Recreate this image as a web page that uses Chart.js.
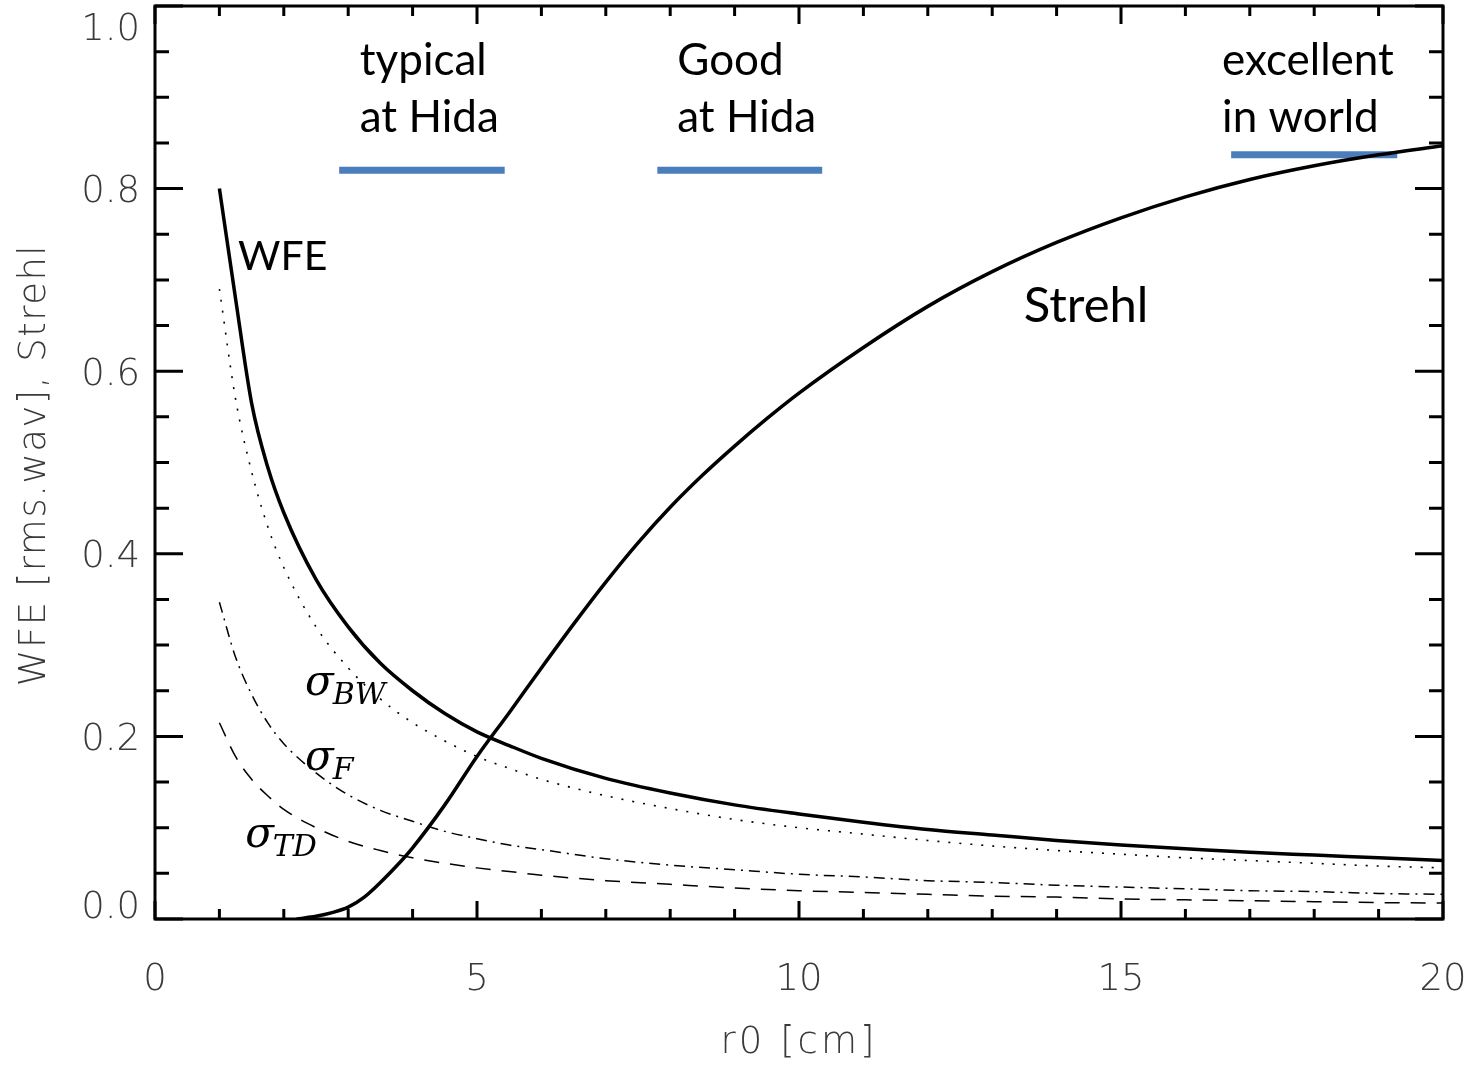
<!DOCTYPE html>
<html lang="en">
<head>
  <meta charset="UTF-8">
  <title>WFE and Strehl vs r0</title>
  <style>
    html, body { margin: 0; padding: 0; background: #fff; }
    #wrap { width: 1478px; height: 1065px; }
  </style>
  <script src="https://cdn.jsdelivr.net/npm/chart.js"></script>
</head>
<body>
  <div id="wrap"><canvas id="chartCanvas" width="1478" height="1065"></canvas></div>

  <script>
    // r0 [cm] sample points
    const r0 = [1, 1.25, 1.5, 1.75, 2, 2.5, 3, 3.5, 4, 4.5, 5, 5.5, 6, 7, 8, 9, 10, 11, 12, 13, 14, 15, 16, 17, 18, 19, 20];
    const wfe = [0.80, 0.68, 0.565, 0.495, 0.445, 0.372, 0.32, 0.28, 0.25, 0.225, 0.205, 0.19, 0.176, 0.154, 0.138, 0.125, 0.115, 0.106, 0.098, 0.092, 0.086, 0.081, 0.077, 0.073, 0.070, 0.067, 0.064];
    const sigmaBW = [0.69, 0.57, 0.49, 0.43, 0.385, 0.32, 0.275, 0.241, 0.215, 0.195, 0.178, 0.165, 0.153, 0.135, 0.121, 0.109, 0.100, 0.093, 0.086, 0.080, 0.075, 0.071, 0.067, 0.064, 0.061, 0.058, 0.056];
    const sigmaF = [0.347, 0.287, 0.246, 0.215, 0.192, 0.160, 0.136, 0.119, 0.107, 0.096, 0.088, 0.081, 0.076, 0.066, 0.059, 0.054, 0.049, 0.046, 0.042, 0.040, 0.037, 0.035, 0.033, 0.031, 0.030, 0.028, 0.027];
    const sigmaTD = [0.215, 0.178, 0.153, 0.135, 0.120, 0.100, 0.085, 0.075, 0.067, 0.061, 0.056, 0.052, 0.048, 0.042, 0.038, 0.034, 0.031, 0.029, 0.027, 0.025, 0.024, 0.022, 0.021, 0.020, 0.019, 0.018, 0.0175];

    const r0Strehl = [2.2, 2.5, 2.75, 3, 3.25, 3.5, 3.75, 4, 4.5, 5, 5.5, 6, 6.5, 7, 7.5, 8, 8.5, 9, 9.5, 10, 11, 12, 13, 14, 15, 16, 17, 18, 19, 20];
    const strehl = [0.0, 0.003, 0.007, 0.013, 0.024, 0.04, 0.058, 0.078, 0.125, 0.178, 0.226, 0.275, 0.323, 0.369, 0.412, 0.451, 0.486, 0.518, 0.548, 0.576, 0.626, 0.671, 0.709, 0.741, 0.768, 0.791, 0.810, 0.825, 0.837, 0.847];

    // seeing ranges (r0 from, r0 to, level)
    const ranges = [
      [2.86, 5.43, 0.82],
      [7.8, 10.36, 0.82],
      [16.71, 19.29, 0.837]
    ];

    const xTickLabels = ["0", "5", "10", "15", "20"];
    const yTickLabels = ["0.0", "0.2", "0.4", "0.6", "0.8", "1.0"];

    const pts = (xs, ys) => xs.map((x, i) => ({ x: x, y: ys[i] }));

    const datasets = [
      { data: pts(r0, wfe), borderColor: "#000", borderWidth: 3.5 },
      { data: pts(r0, sigmaBW), borderColor: "#000", borderWidth: 1.6, borderDash: [2, 9] },
      { data: pts(r0, sigmaF), borderColor: "#000", borderWidth: 1.5, borderDash: [11, 6, 2, 6] },
      { data: pts(r0, sigmaTD), borderColor: "#000", borderWidth: 1.5, borderDash: [15, 11] },
      { data: pts(r0Strehl, strehl), borderColor: "#000", borderWidth: 3.5 }
    ];
    ranges.forEach(r => {
      datasets.push({
        data: [{ x: r[0], y: r[2] }, { x: r[1], y: r[2] }],
        borderColor: "#4a7ebb", borderWidth: 7, cubicInterpolationMode: "default", tension: 0
      });
    });

    // text placed in data coordinates
    const notes = [
      { text: "typical", x: 3.18, y: 0.924 },
      { text: "at Hida", x: 3.18, y: 0.862 },
      { text: "Good", x: 8.11, y: 0.924 },
      { text: "at Hida", x: 8.11, y: 0.862 },
      { text: "excellent", x: 16.57, y: 0.924 },
      { text: "in world", x: 16.57, y: 0.862 },
      { text: "WFE", x: 1.29, y: 0.711, size: 41 },
      { text: "Strehl", x: 13.49, y: 0.654, size: 49 }
    ];
    const sigmas = [
      { sub: "BW", x: 2.33, y: 0.245 },
      { sub: "F", x: 2.33, y: 0.163 },
      { sub: "TD", x: 1.4, y: 0.079 }
    ];

    const axesPlugin = {
      id: "idlAxes",
      afterDatasetsDraw(chart) {
        const ctx = chart.ctx;
        const a = chart.chartArea;
        const xs = chart.scales.x, ys = chart.scales.y;
        ctx.save();
        ctx.strokeStyle = "#000";
        ctx.lineWidth = 3;
        ctx.strokeRect(a.left, a.top, a.right - a.left, a.bottom - a.top);

        // inward ticks on all four sides
        ctx.beginPath();
        for (let v = 0; v <= 20; v += 1) {
          const px = xs.getPixelForValue(v);
          const len = v % 5 === 0 ? 18 : 10;
          ctx.moveTo(px, a.bottom); ctx.lineTo(px, a.bottom - len);
          ctx.moveTo(px, a.top); ctx.lineTo(px, a.top + len);
        }
        for (let k = 0; k <= 20; k++) {
          const py = ys.getPixelForValue(k * 0.05);
          const len = k % 4 === 0 ? 28 : 14;
          ctx.moveTo(a.left, py); ctx.lineTo(a.left + len, py);
          ctx.moveTo(a.right, py); ctx.lineTo(a.right - len, py);
        }
        ctx.stroke();

        // tick labels
        ctx.fillStyle = "#3a3a3a";
        ctx.font = "200 37px 'DejaVu Sans', sans-serif";
        ctx.textAlign = "center";
        ctx.textBaseline = "middle";
        xTickLabels.forEach(t => {
          ctx.fillText(t, xs.getPixelForValue(parseFloat(t)), 980);
        });
        ctx.textAlign = "right";
        yTickLabels.forEach(t => {
          let py = ys.getPixelForValue(parseFloat(t)) + 4;
          py = Math.max(30, Math.min(908, py));
          ctx.fillText(t, 140, py);
        });

        // axis titles
        ctx.textAlign = "center";
        ctx.letterSpacing = "3px";
        ctx.fillText("r0 [cm]", 799, 1043);
        ctx.letterSpacing = "1.5px";
        ctx.save();
        ctx.translate(35, 465);
        ctx.rotate(-Math.PI / 2);
        ctx.fillText("WFE [rms.wav], Strehl", 0, 0);
        ctx.restore();
        ctx.letterSpacing = "0px";

        // annotations
        ctx.fillStyle = "#000";
        ctx.textAlign = "left";
        ctx.textBaseline = "alphabetic";
        notes.forEach(n => {
          ctx.font = (n.size || 44) + "px Lato, 'Open Sans', sans-serif";
          ctx.fillText(n.text, xs.getPixelForValue(n.x), ys.getPixelForValue(n.y));
        });
        sigmas.forEach(s => {
          const px = xs.getPixelForValue(s.x), py = ys.getPixelForValue(s.y);
          ctx.font = "italic 42px 'DejaVu Serif', serif";
          ctx.fillText("\u03c3", px, py);
          const w = ctx.measureText("\u03c3").width;
          ctx.font = "italic 30px 'DejaVu Serif', serif";
          ctx.fillText(s.sub, px + w - 1, py + 9);
        });
        ctx.restore();
      }
    };

    new Chart(document.getElementById("chartCanvas"), {
      type: "line",
      data: { datasets: datasets },
      options: {
        responsive: false,
        animation: false,
        events: [],
        layout: { padding: { left: 155, right: 35, top: 6, bottom: 146 } },
        elements: {
          point: { radius: 0 },
          line: { cubicInterpolationMode: "monotone", fill: false, borderCapStyle: "butt" }
        },
        plugins: { legend: { display: false }, tooltip: { enabled: false } },
        scales: {
          x: { type: "linear", min: 0, max: 20, display: false },
          y: { type: "linear", min: 0, max: 1, display: false }
        }
      },
      plugins: [axesPlugin]
    });
  </script>
</body>
</html>
